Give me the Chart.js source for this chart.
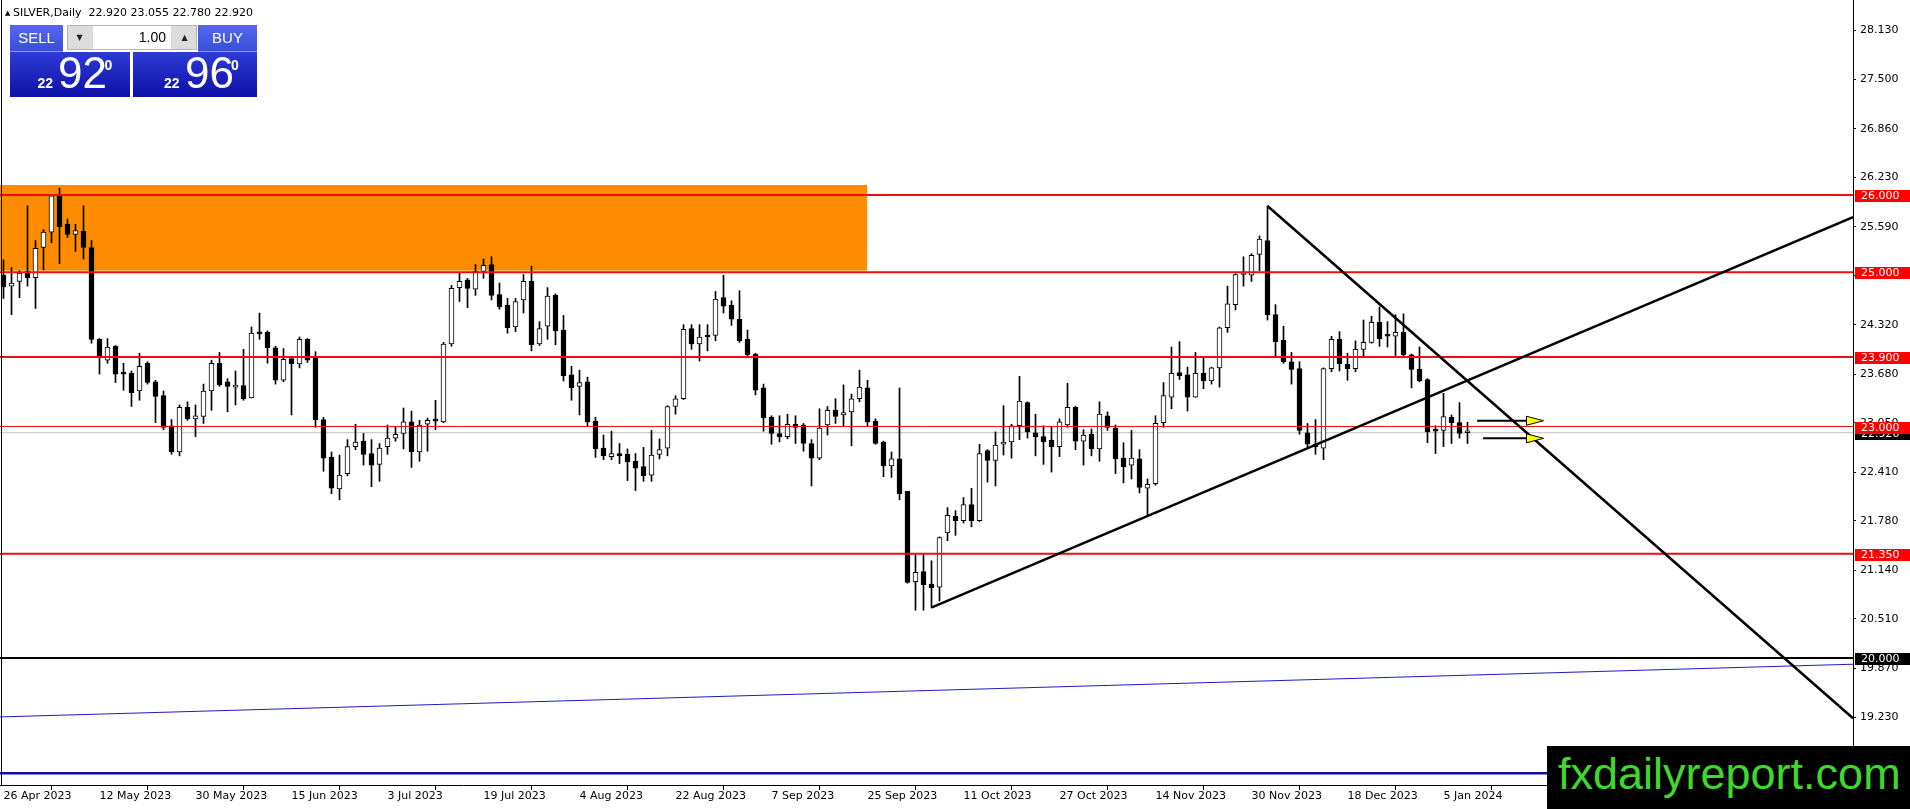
<!DOCTYPE html>
<html>
<head>
<meta charset="utf-8">
<script src="https://cdn.jsdelivr.net/npm/chart.js@4.4.0/dist/chart.umd.min.js"></script>
<style>
  body { margin: 0; width: 1910px; height: 809px; overflow: hidden; position: relative; background: #fff; }
  #c { position: absolute; left: 0; top: 0; }
  .abs { position: absolute; }
  #tri { left: 5px; top: 9px; font: 7px 'DejaVu Sans'; color: #000; }
  #hdr { left: 13px; top: 7.4px; font: 11px 'DejaVu Sans'; line-height: 11px; color: #000; white-space: pre; }
  .tab { top: 25px; height: 26px; background: linear-gradient(#5568ea, #3a4ddc); border-bottom: 1px solid #8d9cf2;
         color: #fff; font: 15px 'Liberation Sans'; line-height: 26px; text-align: center; }
  .box { top: 52px; height: 45px; background: linear-gradient(#2e3bd6, #0e10a6); }
  #qty { left: 67px; top: 25px; width: 130px; height: 25px; background: #dcdcdc; border: 1px solid #b4b4b4; box-sizing: border-box; }
  .btn { top: 25px; width: 25px; height: 25px; font: 8px 'DejaVu Sans'; line-height: 25px; text-align: center; color: #222; }
  #inp { left: 93px; top: 26px; width: 78px; height: 23px; background: #fff; font: 14px 'Liberation Sans'; line-height: 23px;
         text-align: right; padding-right: 5px; box-sizing: border-box; color: #000; }
  .p { position: absolute; color: #fff; font-family: 'Liberation Sans'; white-space: pre; }
  .sm { font-size: 14px; font-weight: bold; line-height: 14px; }
  .big { font-size: 44px; line-height: 44px; }
  .sup { font-size: 14px; font-weight: bold; line-height: 14px; }
  #wm { left: 1547px; top: 746px; width: 363px; height: 63px; background: #000; }
  #wmt { left: 1558px; top: 750.9px; font: 45px 'Liberation Sans'; line-height: 45px; color: #3fd92b; white-space: pre; }
</style>
</head>
<body>
<canvas id="c" width="1910" height="809"></canvas>

<div class="abs" id="tri">▲</div>
<div class="abs" id="hdr">SILVER,Daily  22.920 23.055 22.780 22.920</div>

<div class="abs tab" style="left:10px;width:53px">SELL</div>
<div class="abs box" style="left:10px;width:120px"></div>
<div class="abs tab" style="left:198px;width:59px">BUY</div>
<div class="abs box" style="left:133px;width:124px"></div>
<div class="abs" id="qty"></div>
<div class="abs btn" style="left:67px">▼</div>
<div class="abs" id="inp">1.00</div>
<div class="abs btn" style="left:172px">▲</div>
<span class="p sm" style="left:37.5px;top:75.6px">22</span>
<span class="p big" style="left:58px;top:51px">92</span>
<span class="p sup" style="left:104.5px;top:58.2px">0</span>
<span class="p sm" style="left:164px;top:75.6px">22</span>
<span class="p big" style="left:185px;top:51px">96</span>
<span class="p sup" style="left:231px;top:58.2px">0</span>

<div class="abs" id="wm"></div>
<div class="abs" id="wmt">fxdailyreport.com</div>

<script>
// date labels, one every 12 bars
const dateLabels = ['26 Apr 2023', '12 May 2023', '30 May 2023', '15 Jun 2023', '3 Jul 2023', '19 Jul 2023',
  '4 Aug 2023', '22 Aug 2023', '7 Sep 2023', '25 Sep 2023', '11 Oct 2023', '27 Oct 2023',
  '14 Nov 2023', '30 Nov 2023', '18 Dec 2023', '5 Jan 2024'];

// daily OHLC, bar 0 = 26 Apr 2023
const opens = [
  24.96, 24.82, 24.88, 25.01, 24.93, 25.32, 25.52, 25.99, 25.62, 25.49, 25.53, 25.32,
  24.13, 23.86, 24.04, 23.69, 23.69, 23.46, 23.82, 23.58, 23.40, 23.01, 22.67, 23.25,
  23.10, 23.13, 23.46, 23.82, 23.58, 23.51, 23.53, 23.37, 24.22, 24.22, 24.02, 23.60,
  23.88, 23.81, 24.13, 23.89, 23.09, 22.60, 22.19, 22.39, 22.74, 22.81, 22.65, 22.51,
  22.74, 22.85, 22.91, 23.06, 22.67, 23.03, 23.08, 23.06, 24.07, 24.80, 24.90, 24.78,
  25.01, 25.10, 24.71, 24.57, 24.29, 24.64, 24.88, 24.07, 24.30, 24.70, 24.25, 23.67,
  23.52, 23.58, 23.07, 22.72, 22.61, 22.65, 22.64, 22.55, 22.48, 22.37, 22.64, 22.72,
  23.26, 23.36, 24.27, 24.07, 24.18, 24.18, 24.67, 24.57, 24.39, 24.13, 23.94, 23.50,
  23.12, 22.91, 22.87, 23.03, 23.02, 22.78, 22.59, 23.02, 23.21, 23.15, 23.19, 23.36,
  23.50, 23.07, 22.80, 22.49, 22.58, 22.16, 20.99, 21.12, 20.96, 20.92, 21.62, 21.84,
  21.78, 21.99, 21.78, 22.69, 22.56, 22.77, 22.80, 23.01, 23.31, 22.92, 22.87, 22.82,
  22.74, 23.02, 23.25, 22.81, 22.90, 22.71, 23.14, 22.98, 22.59, 22.50, 22.58, 22.20,
  22.26, 23.05, 23.38, 23.70, 23.67, 23.38, 23.69, 23.59, 23.76, 24.28, 24.58, 24.97,
  24.96, 25.23, 25.41, 24.45, 24.12, 23.84, 23.75, 22.92, 22.77, 22.72, 23.75, 24.13,
  23.81, 23.75, 24.00, 24.09, 24.35, 24.19, 24.17, 24.22, 23.93, 23.74, 23.61, 22.95,
  22.95, 23.12, 23.05, 22.92
];
const highs = [
  25.16, 25.06, 25.02, 25.86, 25.41, 25.55, 26.00, 26.09, 25.69, 25.62, 25.86, 25.41,
  24.14, 24.14, 24.05, 23.82, 23.72, 23.95, 23.84, 23.60, 23.46, 23.09, 23.28, 23.32,
  23.28, 23.55, 23.86, 23.96, 23.62, 23.72, 24.00, 24.29, 24.47, 24.24, 24.04, 24.01,
  23.88, 24.16, 24.14, 23.97, 23.12, 22.67, 22.63, 22.83, 23.03, 22.91, 22.83, 22.78,
  23.02, 23.00, 23.24, 23.20, 23.08, 23.11, 23.34, 24.09, 24.83, 24.99, 24.92, 25.10,
  25.17, 25.20, 24.86, 24.66, 24.66, 24.97, 25.08, 24.36, 24.80, 24.72, 24.44, 23.78,
  23.73, 23.64, 23.12, 22.89, 22.94, 22.78, 22.71, 22.65, 22.73, 22.95, 22.84, 23.27,
  23.40, 24.32, 24.32, 24.32, 24.32, 24.75, 24.96, 24.63, 24.76, 24.25, 23.95, 23.55,
  23.14, 23.14, 23.16, 23.14, 23.04, 22.83, 23.23, 23.26, 23.36, 23.54, 23.42, 23.73,
  23.60, 23.10, 22.81, 22.67, 23.50, 22.16, 21.34, 21.34, 21.26, 21.57, 21.95, 21.91,
  22.08, 22.20, 22.77, 22.70, 22.93, 23.27, 23.03, 23.65, 23.32, 23.16, 23.01, 23.00,
  23.10, 23.56, 23.26, 22.96, 22.97, 23.32, 23.19, 23.02, 22.79, 22.95, 22.70, 22.32,
  23.14, 23.57, 24.03, 24.10, 23.77, 23.96, 23.89, 23.77, 24.29, 24.82, 24.98, 25.20,
  25.24, 25.47, 25.86, 24.58, 24.30, 23.96, 23.84, 23.04, 23.09, 23.76, 24.17, 24.23,
  23.95, 24.11, 24.38, 24.43, 24.55, 24.36, 24.45, 24.46, 23.94, 24.03, 23.62, 23.01,
  23.43, 23.15, 23.31, 23.055
];
const lows = [
  24.66, 24.45, 24.67, 24.82, 24.53, 25.03, 25.38, 25.11, 25.45, 25.27, 25.17, 24.08,
  23.68, 23.82, 23.57, 23.47, 23.26, 23.34, 23.55, 23.05, 22.96, 22.64, 22.62, 23.08,
  22.87, 23.04, 23.21, 23.52, 23.19, 23.28, 23.34, 23.37, 24.13, 23.82, 23.55, 23.58,
  23.15, 23.76, 23.83, 22.99, 22.42, 22.13, 22.05, 22.36, 22.70, 22.50, 22.22, 22.29,
  22.64, 22.81, 22.71, 22.47, 22.55, 22.68, 22.96, 23.05, 24.04, 24.62, 24.54, 24.70,
  24.92, 24.64, 24.52, 24.21, 24.23, 24.47, 23.98, 24.05, 24.13, 24.06, 23.59, 23.34,
  23.15, 23.01, 22.60, 22.57, 22.57, 22.52, 22.30, 22.17, 22.29, 22.29, 22.58, 22.62,
  23.16, 23.35, 24.00, 23.85, 23.98, 24.11, 24.47, 24.31, 24.09, 23.91, 23.41, 22.94,
  22.77, 22.80, 22.84, 22.78, 22.68, 22.23, 22.57, 22.89, 23.04, 23.01, 22.75, 23.32,
  23.01, 22.77, 22.35, 22.34, 22.05, 20.97, 20.62, 20.62, 20.65, 20.74, 21.52, 21.59,
  21.75, 21.70, 21.77, 22.28, 22.23, 22.63, 22.59, 22.83, 22.85, 22.62, 22.51, 22.41,
  22.61, 22.99, 22.70, 22.50, 22.62, 22.55, 22.95, 22.39, 22.27, 22.32, 22.14, 21.84,
  22.24, 22.99, 23.23, 23.61, 23.20, 23.38, 23.49, 23.55, 23.51, 24.22, 24.51, 24.82,
  24.88, 25.02, 24.38, 23.91, 23.82, 23.55, 22.90, 22.74, 22.64, 22.57, 23.71, 23.72,
  23.60, 23.71, 23.90, 24.08, 24.04, 24.03, 23.92, 23.90, 23.50, 23.58, 22.79, 22.65,
  22.74, 22.78, 22.85, 22.78
];
const closes = [
  24.81, 24.86, 24.99, 24.93, 25.31, 25.52, 25.99, 25.59, 25.49, 25.54, 25.32, 24.13,
  23.91, 24.03, 23.68, 23.68, 23.44, 23.78, 23.57, 23.39, 22.99, 22.67, 23.25, 23.10,
  23.14, 23.46, 23.82, 23.54, 23.52, 23.53, 23.36, 24.21, 24.20, 24.02, 23.60, 23.87,
  23.81, 24.13, 23.86, 23.09, 22.59, 22.20, 22.37, 22.74, 22.80, 22.64, 22.50, 22.72,
  22.85, 22.90, 23.06, 22.67, 23.02, 23.08, 23.07, 24.07, 24.79, 24.88, 24.79, 25.01,
  25.09, 24.70, 24.55, 24.28, 24.62, 24.88, 24.06, 24.27, 24.69, 24.24, 23.66, 23.50,
  23.57, 23.06, 22.71, 22.62, 22.65, 22.62, 22.54, 22.46, 22.36, 22.63, 22.70, 23.26,
  23.36, 24.26, 24.07, 24.16, 24.16, 24.65, 24.56, 24.39, 24.11, 23.93, 23.47, 23.11,
  22.91, 22.87, 23.03, 22.99, 22.78, 22.59, 22.98, 23.21, 23.13, 23.18, 23.36, 23.51,
  23.06, 22.78, 22.49, 22.58, 22.13, 20.98, 21.11, 20.95, 20.91, 21.56, 21.85, 21.78,
  21.99, 21.78, 22.65, 22.56, 22.76, 22.80, 23.01, 23.33, 22.93, 22.87, 22.80, 22.74,
  23.06, 23.25, 22.81, 22.89, 22.71, 23.16, 22.99, 22.58, 22.48, 22.59, 22.21, 22.25,
  23.04, 23.40, 23.69, 23.66, 23.38, 23.69, 23.59, 23.76, 24.28, 24.59, 24.97, 24.99,
  25.22, 25.43, 24.45, 24.10, 23.84, 23.74, 22.95, 22.77, 22.74, 23.75, 24.13, 23.81,
  23.75, 24.00, 24.09, 24.35, 24.14, 24.17, 24.22, 23.93, 23.74, 23.59, 22.93, 22.94,
  23.13, 23.05, 22.91, 22.92
];

// price scale labels on the right
const yTicks = [19.23, 19.87, 20.51, 21.14, 21.78, 22.41, 23.05, 23.68, 24.32, 24.96, 25.59, 26.23, 26.86, 27.5, 28.13];

// horizontal levels
const levelPrices = [26, 25, 23.9, 23, 21.35];
const levelWidths = [2, 2, 2, 1, 2];
const blackLevel = 20;
const bidPrice = 22.92;

// price tags on the axis (bid first so the red 23.000 sits on top)
const tagPrices = [22.92, 26, 25, 23.9, 23, 21.35, 20];
const tagColors = ['#000', '#ff0000', '#ff0000', '#ff0000', '#ff0000', '#ff0000', '#000'];

// trend lines: [start bar, start price, end bar, end price]
const trendFromX = [116.05, 158];
const trendFromY = [20.657, 25.857];
const trendToX = [231.19, 231.19];
const trendToY = [25.714, 19.22];

// blue lines
const blueSlopeY = [19.237, 19.92];
const blueFlatY = 18.506;

// orange supply zone
const zoneFromX = -0.44, zoneToX = 107.96;
const zoneLow = 25.02, zoneHigh = 26.13;

// yellow arrows
const arrowFrom = [184.2, 184.95];
const arrowTo = [192.5, 192.5];
const arrowPrice = [23.075, 22.847];

const xMin = -0.4375, xMax = 231.1875;
const yMin = 18.355, yMax = 28.527;

const bodyData = opens.map((o, i) => ({ x: i, y: [Math.min(o, closes[i]), Math.max(o, closes[i])] }));
const wickData = lows.map((l, i) => ({ x: i, y: [l, highs[i]] }));
const bodyColors = opens.map((o, i) => closes[i] >= o ? '#ffffff' : '#000000');

function flat(p) { return [{ x: xMin, y: p }, { x: xMax, y: p }]; }
function lineSet(data, color, width, order) {
  return { type: 'line', data: data, borderColor: color, borderWidth: width, pointRadius: 0, tension: 0, order: order };
}

const datasets = [
  { data: bodyData, backgroundColor: bodyColors, borderColor: '#000', borderWidth: 1, borderSkipped: false,
    barThickness: 5, minBarLength: 2, grouped: false, order: 2 },
  { data: wickData, backgroundColor: '#000', borderWidth: 0, barThickness: 1, grouped: false, order: 3 },
  lineSet(flat(bidPrice), '#c0c0c0', 1, 5),
  lineSet([{ x: xMin, y: blueSlopeY[0] }, { x: xMax, y: blueSlopeY[1] }], '#1c1cc0', 1, 1),
  lineSet(flat(blueFlatY), '#10109c', 2.5, 1),
  lineSet(flat(blackLevel), '#000', 2, 1)
];
levelPrices.forEach((p, i) => datasets.push(lineSet(flat(p), '#e81010', levelWidths[i], 1)));
trendFromX.forEach((x0, i) => datasets.push(lineSet([{ x: x0, y: trendFromY[i] }, { x: trendToX[i], y: trendToY[i] }], '#000', 2.5, 0)));

const zonePlugin = {
  id: 'zone',
  beforeDatasetsDraw(chart) {
    const { ctx, scales: { x, y } } = chart;
    const x0 = x.getPixelForValue(zoneFromX), x1 = x.getPixelForValue(zoneToX);
    const y0 = y.getPixelForValue(zoneHigh), y1 = y.getPixelForValue(zoneLow);
    ctx.save();
    ctx.fillStyle = '#ff8c00';
    ctx.fillRect(x0, y0, x1 - x0, y1 - y0);
    ctx.restore();
  }
};

const overlayPlugin = {
  id: 'overlay',
  afterDraw(chart) {
    const { ctx, chartArea: a, scales: { x, y } } = chart;
    ctx.save();
    // left frame
    ctx.fillStyle = '#000';
    ctx.fillRect(1, 0, 1, a.bottom);

    // arrows
    arrowPrice.forEach((p, i) => {
      const yy = y.getPixelForValue(p);
      const xs = x.getPixelForValue(arrowFrom[i]);
      const tip = x.getPixelForValue(arrowTo[i]);
      ctx.strokeStyle = '#000';
      ctx.lineWidth = 2;
      ctx.beginPath(); ctx.moveTo(xs, yy); ctx.lineTo(tip - 12, yy); ctx.stroke();
      ctx.beginPath();
      ctx.moveTo(tip, yy); ctx.lineTo(tip - 17, yy - 4.5); ctx.lineTo(tip - 17, yy + 4.5); ctx.closePath();
      ctx.fillStyle = '#ffff00';
      ctx.fill();
      ctx.lineWidth = 1;
      ctx.stroke();
    });

    // price tags
    ctx.font = '11px "DejaVu Sans"';
    ctx.textBaseline = 'middle';
    ctx.textAlign = 'left';
    tagPrices.forEach((p, i) => {
      const py = Math.round(y.getPixelForValue(p));
      ctx.fillStyle = tagColors[i];
      ctx.fillRect(a.right + 2, py - 5, chart.width - a.right - 2, 12);
      ctx.fillStyle = '#fff';
      ctx.fillText(p.toFixed(3), a.right + 8, py + 1);
    });
    ctx.restore();
  }
};

new Chart(document.getElementById('c'), {
  type: 'bar',
  data: { datasets: datasets },
  plugins: [zonePlugin, overlayPlugin],
  options: {
    responsive: false,
    animation: false,
    events: [],
    layout: { padding: 0 },
    plugins: { legend: { display: false }, tooltip: { enabled: false } },
    scales: {
      x: {
        type: 'linear', min: xMin, max: xMax, offset: false,
        grid: { display: true, drawOnChartArea: false, drawTicks: true, tickLength: 5, color: '#000' },
        border: { display: true, color: '#000' },
        ticks: {
          autoSkip: false, maxRotation: 0, align: 'start', padding: 0, color: '#000',
          font: { family: 'DejaVu Sans', size: 11 },
          callback: (v, i) => dateLabels[i]
        },
        afterBuildTicks: s => { s.ticks = dateLabels.map((d, i) => ({ value: i * 12 })); },
        afterFit: s => { s.height = 24; s.paddingLeft = 0; s.paddingRight = 0; }
      },
      y: {
        type: 'linear', position: 'right', min: yMin, max: yMax,
        grid: { display: true, drawOnChartArea: false, drawTicks: true, tickLength: 3, color: '#000' },
        border: { display: true, color: '#000' },
        ticks: {
          padding: 4, color: '#000', font: { family: 'DejaVu Sans', size: 11 },
          callback: v => v.toFixed(3)
        },
        afterBuildTicks: s => { s.ticks = yTicks.map(v => ({ value: v })); },
        afterFit: s => { s.width = 57; s.paddingTop = 0; s.paddingBottom = 0; }
      }
    }
  }
});
</script>
</body>
</html>
